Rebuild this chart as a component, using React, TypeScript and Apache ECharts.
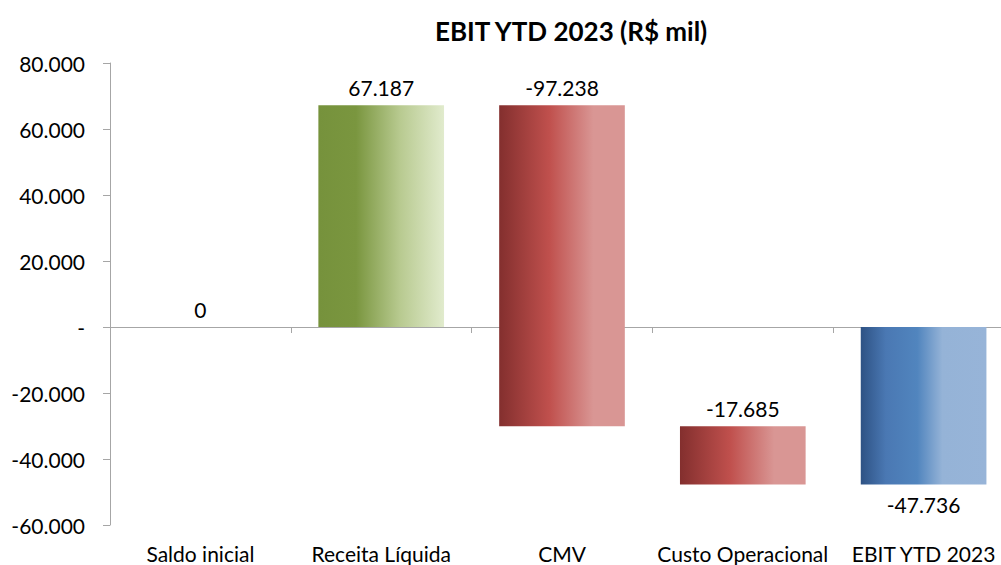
import React, { useEffect, useRef } from "react";
import * as echarts from "echarts";

const categories = ["Saldo inicial", "Receita Líquida", "CMV", "Custo Operacional", "EBIT YTD 2023"];
// start / end of each floating bar (R$ mil)
const barStart = [0, 0, 67187, -30051, 0];
const barEnd = [0, 67187, -30051, -47736, -47736];
const labelTexts = ["0", "67.187", "-97.238", "-17.685", "-47.736"];
const labelBelow = [false, false, false, false, true];
const colorKind = ["none", "green", "red", "red", "blue"];
const yTicks = [-60000, -40000, -20000, 0, 20000, 40000, 60000, 80000];

const FONT = "Lato, 'Open Sans', sans-serif";

function fmt(v: number): string {
  if (v === 0) return "-";
  const s = Math.abs(v).toString().replace(/\B(?=(\d{3})+(?!\d))/g, ".");
  return (v < 0 ? "-" : "") + s;
}

function gradient(kind: string) {
  const stops: Record<string, [number, string][]> = {
    green: [[0, "#76923C"], [0.3, "#7A963F"], [0.65, "#B8CA90"], [1, "#E1EBCD"]],
    red: [[0, "#832F2E"], [0.4, "#C0504D"], [0.75, "#D99694"], [1, "#D99694"]],
    blue: [[0, "#2E5284"], [0.2, "#4A78B3"], [0.45, "#5185BE"], [0.65, "#95B3D7"], [1, "#97B4D8"]],
  };
  const s = stops[kind] || stops.blue;
  return new echarts.graphic.LinearGradient(0, 0, 1, 0, s.map(([offset, color]) => ({ offset, color })));
}

export default function App() {
  const ref = useRef<HTMLDivElement>(null);
  useEffect(() => {
    if (!ref.current) return;
    const chart = echarts.init(ref.current, undefined, { renderer: "svg" });
    const data = categories.map((c, i) => [i, barStart[i], barEnd[i]]);
    chart.setOption({
      animation: false,
      backgroundColor: "#ffffff",
      title: {
        text: "EBIT YTD 2023 (R$ mil)",
        left: 430,
        top: 13,
        textStyle: { fontFamily: FONT, fontWeight: "bold", fontSize: 26, color: "#000" },
      },
      grid: { left: 110, width: 904, top: 63, bottom: 40, containLabel: false, outerBoundsMode: "none" },
      xAxis: [
        {
          type: "category",
          data: categories,
          position: "bottom",
          axisLine: { onZero: true, lineStyle: { color: "#A6A6A6", width: 1 } },
          axisTick: { show: true, length: 6, lineStyle: { color: "#A6A6A6" } },
          axisLabel: { show: false },
        },
        {
          type: "category",
          data: categories,
          position: "bottom",
          axisLine: { show: false, onZero: false },
          axisTick: { show: false },
          axisLabel: { show: true, margin: 18, fontFamily: FONT, fontSize: 21, color: "#000", interval: 0 },
        },
      ],
      yAxis: {
        type: "value",
        min: -60000,
        max: 80000,
        interval: 20000,
        axisLine: { show: true, lineStyle: { color: "#A6A6A6" } },
        axisTick: { show: true, length: 7, lineStyle: { color: "#A6A6A6" } },
        splitLine: { show: false },
        axisLabel: {
          margin: 25,
          fontFamily: FONT,
          fontSize: 21,
          color: "#000",
          formatter: (v: number) => fmt(v),
        },
      },
      series: [
        {
          type: "custom",
          xAxisIndex: 0,
          data,
          encode: { x: 0, y: [1, 2] },
          renderItem: (params: any, api: any) => {
            const i = api.value(0);
            const a = api.value(1);
            const b = api.value(2);
            const p1 = api.coord([i, a]);
            const p2 = api.coord([i, b]);
            const w = api.size([1, 0])[0] * 0.695;
            const top = Math.min(p1[1], p2[1]);
            const bottom = Math.max(p1[1], p2[1]);
            const children: any[] = [];
            if (colorKind[i] !== "none") {
              children.push({
                type: "rect",
                shape: { x: p1[0] - w / 2, y: top, width: w, height: bottom - top },
                style: { fill: gradient(colorKind[i]) },
              });
            }
            const below = labelBelow[i];
            children.push({
              type: "text",
              style: {
                text: labelTexts[i],
                x: p1[0],
                y: below ? bottom + 9 : top - 7,
                align: "center",
                verticalAlign: below ? "top" : "bottom",
                fontFamily: FONT,
                fontSize: 21,
                fill: "#000",
              },
            });
            return { type: "group", children };
          },
        },
      ],
    });
    return () => chart.dispose();
  }, []);
  return <div ref={ref} style={{ width: 1001, height: 565, position: "absolute", left: 0, top: 0 }} />;
}
